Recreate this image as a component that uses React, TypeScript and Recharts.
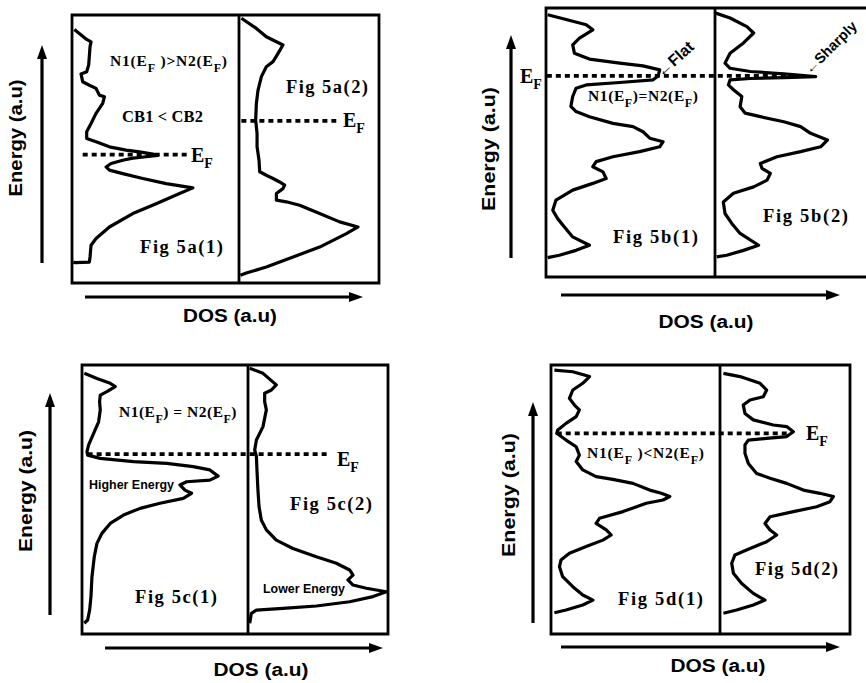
import React from 'react';
import { ComposedChart, Line, XAxis, YAxis, ReferenceLine, ReferenceArea } from 'recharts';

type P = { d: number; e: number };

// ---------- DOS curves (d = DOS a.u. 0..100 within its box, e = energy a.u. 0..100) ----------
const dosA1: P[] = [
  { d: 1.4, e: 94.6 }, { d: 8.8, e: 90.9 }, { d: 11.4, e: 90.0 }, { d: 10.8, e: 88.2 }, { d: 10.0, e: 81.4 },
  { d: 8.8, e: 78.8 }, { d: 5.4, e: 78.0 }, { d: 6.4, e: 75.1 }, { d: 10.4, e: 73.8 }, { d: 14.4, e: 72.6 },
  { d: 16.4, e: 70.1 }, { d: 19.4, e: 69.5 }, { d: 18.4, e: 67.0 }, { d: 14.4, e: 63.3 }, { d: 11.4, e: 59.5 },
  { d: 8.8, e: 56.4 }, { d: 8.8, e: 53.9 }, { d: 14.4, e: 52.7 }, { d: 22.4, e: 50.8 }, { d: 32.4, e: 49.6 },
  { d: 40.4, e: 48.9 }, { d: 48.4, e: 48.1 }, { d: 51.4, e: 47.6 }, { d: 44.4, e: 47.1 }, { d: 36.4, e: 46.6 },
  { d: 30.4, e: 45.8 }, { d: 23.4, e: 44.6 }, { d: 20.4, e: 43.3 }, { d: 22.4, e: 42.1 }, { d: 30.4, e: 40.8 },
  { d: 42.4, e: 39.0 }, { d: 56.4, e: 37.1 }, { d: 72.4, e: 35.5 }, { d: 64.4, e: 33.4 }, { d: 50.4, e: 29.6 },
  { d: 36.4, e: 25.9 }, { d: 22.4, e: 20.9 }, { d: 14.4, e: 16.6 }, { d: 11.4, e: 14.1 }, { d: 10.8, e: 9.7 },
  { d: 10.4, e: 7.8 }, { d: 2.0, e: 7.6 }, { d: 0.8, e: 7.8 },
];
const dosA2: P[] = [
  { d: 1.7, e: 98.8 }, { d: 12.4, e: 95.0 }, { d: 19.5, e: 91.9 }, { d: 26.7, e: 90.0 }, { d: 31.4, e: 88.8 },
  { d: 27.9, e: 85.7 }, { d: 24.3, e: 82.6 }, { d: 19.5, e: 80.7 }, { d: 16.0, e: 77.0 }, { d: 13.6, e: 72.0 },
  { d: 12.4, e: 67.0 }, { d: 11.9, e: 60.8 }, { d: 12.9, e: 55.8 }, { d: 12.9, e: 50.8 }, { d: 14.3, e: 45.8 },
  { d: 14.8, e: 41.5 }, { d: 19.5, e: 40.2 }, { d: 24.3, e: 39.0 }, { d: 29.0, e: 37.7 }, { d: 32.6, e: 36.5 },
  { d: 31.4, e: 35.2 }, { d: 26.7, e: 33.4 }, { d: 26.7, e: 30.9 }, { d: 33.8, e: 30.3 }, { d: 43.3, e: 29.0 },
  { d: 57.6, e: 25.9 }, { d: 71.9, e: 22.8 }, { d: 85.0, e: 20.9 }, { d: 76.7, e: 18.4 }, { d: 57.6, e: 13.4 },
  { d: 38.6, e: 9.7 }, { d: 19.5, e: 6.0 }, { d: 5.2, e: 3.7 }, { d: 1.0, e: 2.9 },
];
const dosB1: P[] = [
  { d: 1.0, e: 97.5 }, { d: 11.9, e: 95.7 }, { d: 23.8, e: 93.8 }, { d: 27.7, e: 91.9 }, { d: 19.8, e: 88.8 },
  { d: 15.8, e: 86.3 }, { d: 16.8, e: 83.2 }, { d: 25.7, e: 81.0 }, { d: 43.6, e: 79.5 }, { d: 57.4, e: 78.5 },
  { d: 67.3, e: 77.0 }, { d: 66.3, e: 74.7 }, { d: 63.4, e: 73.3 }, { d: 43.6, e: 72.3 }, { d: 23.8, e: 71.4 },
  { d: 17.8, e: 70.2 }, { d: 15.8, e: 67.1 }, { d: 14.7, e: 63.4 }, { d: 17.8, e: 61.5 }, { d: 25.7, e: 59.6 },
  { d: 39.6, e: 57.1 }, { d: 51.5, e: 55.9 }, { d: 57.4, e: 54.0 }, { d: 61.4, e: 51.6 }, { d: 69.3, e: 50.3 },
  { d: 67.3, e: 48.4 }, { d: 55.4, e: 46.6 }, { d: 39.6, e: 44.7 }, { d: 29.7, e: 42.9 }, { d: 27.7, e: 41.0 },
  { d: 33.7, e: 39.1 }, { d: 35.6, e: 36.6 }, { d: 27.7, e: 34.8 }, { d: 15.8, e: 32.3 }, { d: 5.9, e: 28.6 },
  { d: 4.0, e: 24.8 }, { d: 6.9, e: 21.7 }, { d: 10.9, e: 18.6 }, { d: 15.8, e: 14.9 }, { d: 25.7, e: 11.8 },
  { d: 17.8, e: 9.9 }, { d: 7.9, e: 8.1 }, { d: 1.0, e: 7.2 },
];
const dosB2: P[] = [
  { d: 0.5, e: 98.1 }, { d: 9.8, e: 96.3 }, { d: 20.7, e: 93.1 }, { d: 25.1, e: 90.7 }, { d: 18.5, e: 87.0 },
  { d: 9.8, e: 83.2 }, { d: 6.5, e: 79.5 }, { d: 9.8, e: 77.6 }, { d: 22.9, e: 76.4 }, { d: 44.7, e: 75.5 },
  { d: 65.4, e: 74.5 }, { d: 44.7, e: 74.1 }, { d: 22.9, e: 73.8 }, { d: 9.8, e: 73.3 }, { d: 8.7, e: 71.4 },
  { d: 12.0, e: 69.6 }, { d: 17.4, e: 67.1 }, { d: 16.3, e: 63.3 }, { d: 19.6, e: 60.9 }, { d: 29.4, e: 59.6 },
  { d: 44.7, e: 57.7 }, { d: 55.6, e: 55.9 }, { d: 62.1, e: 53.4 }, { d: 73.0, e: 50.9 }, { d: 68.6, e: 48.4 },
  { d: 55.6, e: 46.6 }, { d: 40.3, e: 44.7 }, { d: 29.4, e: 42.2 }, { d: 30.5, e: 40.4 }, { d: 35.9, e: 38.5 },
  { d: 33.8, e: 36.0 }, { d: 25.1, e: 33.5 }, { d: 12.0, e: 31.1 }, { d: 5.4, e: 27.9 }, { d: 6.5, e: 23.6 },
  { d: 10.9, e: 19.9 }, { d: 16.3, e: 16.2 }, { d: 28.3, e: 11.8 }, { d: 18.5, e: 9.9 }, { d: 7.6, e: 8.1 },
  { d: 1.1, e: 7.5 },
];
const dosC1: P[] = [
  { d: 1.4, e: 96.9 }, { d: 9.0, e: 95.0 }, { d: 17.0, e: 93.2 }, { d: 20.0, e: 92.0 }, { d: 15.0, e: 90.1 },
  { d: 11.0, e: 88.8 }, { d: 10.6, e: 86.4 }, { d: 11.0, e: 83.3 }, { d: 10.0, e: 78.9 }, { d: 7.0, e: 74.6 },
  { d: 4.0, e: 70.3 }, { d: 3.0, e: 67.8 }, { d: 3.4, e: 66.5 }, { d: 11.0, e: 65.3 }, { d: 31.0, e: 64.1 },
  { d: 51.0, e: 63.4 }, { d: 67.0, e: 62.2 }, { d: 77.0, e: 61.0 }, { d: 82.0, e: 58.7 }, { d: 77.0, e: 57.2 },
  { d: 63.0, e: 56.6 }, { d: 59.0, e: 55.4 }, { d: 62.0, e: 53.5 }, { d: 66.0, e: 52.3 }, { d: 61.0, e: 50.4 },
  { d: 47.0, e: 48.6 }, { d: 35.0, e: 46.7 }, { d: 25.0, e: 44.2 }, { d: 17.0, e: 41.1 }, { d: 12.0, e: 37.4 },
  { d: 9.0, e: 33.7 }, { d: 7.4, e: 28.7 }, { d: 6.0, e: 21.3 }, { d: 5.4, e: 13.9 }, { d: 4.6, e: 8.9 },
  { d: 3.4, e: 5.2 }, { d: 1.4, e: 4.0 },
];
const dosC2: P[] = [
  { d: 1.2, e: 98.8 }, { d: 10.7, e: 96.9 }, { d: 20.2, e: 92.6 }, { d: 16.7, e: 90.7 }, { d: 11.9, e: 89.5 },
  { d: 11.9, e: 86.4 }, { d: 13.1, e: 83.3 }, { d: 10.7, e: 77.1 }, { d: 6.0, e: 72.1 }, { d: 4.8, e: 68.4 },
  { d: 6.0, e: 65.9 }, { d: 6.4, e: 61.0 }, { d: 7.1, e: 53.5 }, { d: 7.9, e: 47.3 }, { d: 9.5, e: 42.4 },
  { d: 13.1, e: 38.7 }, { d: 20.2, e: 34.9 }, { d: 32.1, e: 31.8 }, { d: 48.8, e: 28.7 }, { d: 63.1, e: 26.3 },
  { d: 72.6, e: 23.8 }, { d: 75.0, e: 21.9 }, { d: 71.4, e: 20.1 }, { d: 75.0, e: 18.2 }, { d: 84.5, e: 17.0 },
  { d: 98.8, e: 15.7 }, { d: 89.3, e: 13.9 }, { d: 72.6, e: 12.0 }, { d: 48.8, e: 10.4 }, { d: 25.0, e: 9.5 },
  { d: 6.0, e: 8.9 }, { d: 2.4, e: 7.7 }, { d: 1.2, e: 4.0 },
];
const dosD1: P[] = [
  { d: 2.0, e: 98.1 }, { d: 12.9, e: 97.5 }, { d: 22.8, e: 95.7 }, { d: 18.8, e: 93.2 }, { d: 12.9, e: 90.7 },
  { d: 10.9, e: 87.6 }, { d: 13.9, e: 85.1 }, { d: 16.8, e: 83.3 }, { d: 14.9, e: 80.8 }, { d: 8.9, e: 78.3 },
  { d: 4.0, e: 75.8 }, { d: 3.4, e: 74.6 }, { d: 8.9, e: 72.1 }, { d: 14.9, e: 69.6 }, { d: 16.8, e: 66.5 },
  { d: 14.9, e: 64.1 }, { d: 18.8, e: 61.0 }, { d: 26.7, e: 58.5 }, { d: 36.6, e: 57.5 }, { d: 48.5, e: 56.0 },
  { d: 58.4, e: 53.5 }, { d: 65.3, e: 52.3 }, { d: 70.3, e: 51.1 }, { d: 66.3, e: 49.8 }, { d: 56.4, e: 48.6 },
  { d: 42.6, e: 45.5 }, { d: 28.7, e: 43.0 }, { d: 26.7, e: 41.1 }, { d: 32.7, e: 38.7 }, { d: 35.6, e: 36.8 },
  { d: 30.7, e: 34.9 }, { d: 20.8, e: 32.5 }, { d: 10.9, e: 30.0 }, { d: 5.9, e: 27.5 }, { d: 5.0, e: 25.0 },
  { d: 6.9, e: 21.3 }, { d: 12.9, e: 17.6 }, { d: 18.8, e: 14.5 }, { d: 24.8, e: 12.6 }, { d: 18.8, e: 10.8 },
  { d: 8.9, e: 8.9 }, { d: 2.0, e: 7.9 },
];
const dosD2: P[] = [
  { d: 2.6, e: 96.9 }, { d: 15.4, e: 95.7 }, { d: 30.8, e: 93.2 }, { d: 35.9, e: 90.7 }, { d: 33.3, e: 88.2 },
  { d: 23.1, e: 87.0 }, { d: 17.9, e: 85.1 }, { d: 19.2, e: 82.0 }, { d: 25.6, e: 79.6 }, { d: 41.0, e: 77.7 },
  { d: 51.3, e: 77.1 }, { d: 56.4, e: 75.2 }, { d: 51.3, e: 73.4 }, { d: 35.9, e: 72.7 }, { d: 21.8, e: 72.1 },
  { d: 19.2, e: 70.3 }, { d: 19.2, e: 67.2 }, { d: 21.8, e: 63.4 }, { d: 28.2, e: 59.7 }, { d: 38.5, e: 57.9 },
  { d: 51.3, e: 56.0 }, { d: 64.1, e: 53.5 }, { d: 76.9, e: 52.3 }, { d: 87.2, e: 51.1 }, { d: 84.6, e: 49.2 },
  { d: 74.4, e: 47.3 }, { d: 56.4, e: 45.5 }, { d: 38.5, e: 43.6 }, { d: 34.6, e: 41.1 }, { d: 38.5, e: 38.7 },
  { d: 43.6, e: 36.8 }, { d: 35.9, e: 34.3 }, { d: 23.1, e: 31.8 }, { d: 11.5, e: 29.4 }, { d: 9.0, e: 26.3 },
  { d: 10.3, e: 22.6 }, { d: 16.7, e: 18.8 }, { d: 25.6, e: 15.1 }, { d: 34.6, e: 12.6 }, { d: 25.6, e: 10.8 },
  { d: 12.8, e: 8.9 }, { d: 2.6, e: 7.7 },
];

// Fermi level lines: [energy, from DOS, to DOS, axis of the DOS values]
type EF = { e: number; from: number; to: number; axis: 'L' | 'R' };
const efA: EF[] = [
  { e: 47.9, from: 6.4, to: 70.4, axis: 'L' },
  { e: 60.5, from: 1.7, to: 69.5, axis: 'R' },
];
const efB: EF[] = [{ e: 74.8, from: 0.5, to: 145, axis: 'L' }];
const efC: EF[] = [{ e: 66.9, from: 3.4, to: 149, axis: 'L' }];
const efD: EF[] = [{ e: 74.6, from: 3.4, to: 140.6, axis: 'L' }];

const SERIF = '"Liberation Serif", "Times New Roman", serif';
const SANS = '"Liberation Sans", Arial, sans-serif';

type Box = { left: number; top: number; right: number; bottom: number; divider: number };

function Panel({ box, c1, c2, ef }: { box: Box; c1: P[]; c2: P[]; ef: EF[] }) {
  const M = 6;
  const W = box.right - box.left;
  const H = box.bottom - box.top;
  const WL = box.divider - box.left;
  const WR = box.right - box.divider;
  const lMax = (100 * W) / WL;
  const rMin = (-100 * WL) / WR;
  return (
    <div style={{ position: 'absolute', left: box.left - M, top: box.top - M }}>
      <ComposedChart width={W + 2 * M} height={H + 2 * M} margin={{ top: M, right: M, bottom: M, left: M }}>
        <XAxis xAxisId="L" type="number" dataKey="d" domain={[0, lMax]} hide allowDataOverflow />
        <XAxis xAxisId="R" type="number" dataKey="d" domain={[rMin, 100]} hide allowDataOverflow />
        <YAxis yAxisId="E" type="number" domain={[0, 100]} hide allowDataOverflow />
        <ReferenceArea xAxisId="L" yAxisId="E" x1={0} x2={lMax} y1={0} y2={100} fill="none" fillOpacity={0}
          stroke="#000" strokeWidth={2.8} ifOverflow="visible" />
        <ReferenceLine xAxisId="L" yAxisId="E" x={100} stroke="#000" strokeWidth={2.8} ifOverflow="visible" />
        {ef.map((f, i) => (
          <ReferenceLine key={i} xAxisId={f.axis} yAxisId="E" ifOverflow="visible"
            segment={[{ x: f.from, y: f.e }, { x: f.to, y: f.e }]}
            stroke="#000" strokeWidth={3.8} strokeDasharray="5 4" />
        ))}
        <Line xAxisId="L" yAxisId="E" data={c1} dataKey="e" type="linear" stroke="#000" strokeWidth={3.2}
          dot={false} isAnimationActive={false} strokeLinejoin="round" />
        <Line xAxisId="R" yAxisId="E" data={c2} dataKey="e" type="linear" stroke="#000" strokeWidth={3.2}
          dot={false} isAnimationActive={false} strokeLinejoin="round" />
      </ComposedChart>
    </div>
  );
}

function VArrow({ x, y1, y2 }: { x: number; y1: number; y2: number }) {
  return (
    <g>
      <line x1={x} y1={y1} x2={x} y2={y2 + 8} stroke="#000" strokeWidth={3.2} />
      <polygon points={`${x},${y2} ${x - 5},${y2 + 14} ${x + 5},${y2 + 14}`} fill="#000" />
    </g>
  );
}
function HArrow({ y, x1, x2 }: { y: number; x1: number; x2: number }) {
  return (
    <g>
      <line x1={x1} y1={y} x2={x2 - 8} y2={y} stroke="#000" strokeWidth={3.2} />
      <polygon points={`${x2},${y} ${x2 - 14},${y - 5} ${x2 - 14},${y + 5}`} fill="#000" />
    </g>
  );
}
function EnergyTitle({ x, y, len }: { x: number; y: number; len: number }) {
  return (
    <text transform={`translate(${x},${y}) rotate(-90)`} textAnchor="middle" fontFamily={SANS} fontWeight="bold"
      fontSize={18} textLength={len} lengthAdjust="spacingAndGlyphs">Energy (a.u)</text>
  );
}
function DosTitle({ x, y, len }: { x: number; y: number; len: number }) {
  return (
    <text x={x} y={y} textAnchor="middle" fontFamily={SANS} fontWeight="bold" fontSize={18}
      textLength={len} lengthAdjust="spacingAndGlyphs">DOS (a.u)</text>
  );
}
function Fig({ x, y, len, children }: { x: number; y: number; len: number; children: string }) {
  return (
    <text x={x} y={y} fontFamily={SERIF} fontWeight="bold" fontSize={18.5} textLength={len} lengthAdjust="spacing">{children}</text>
  );
}
function EFLabel({ x, y }: { x: number; y: number }) {
  return (
    <text x={x} y={y} fontFamily={SERIF} fontWeight="bold" fontSize={20}>
      E<tspan fontSize={14} dy={6}>F</tspan>
    </text>
  );
}
function NLabel({ x, y, a, b, c, ls }: { x: number; y: number; a: string; b: string; c: string; ls: number }) {
  return (
    <text x={x} y={y} fontFamily={SERIF} fontWeight="bold" fontSize={15.5} letterSpacing={ls}>
      {a}<tspan fontSize={12} dy={6}>F</tspan><tspan dy={-6}>{b}</tspan><tspan fontSize={12} dy={6}>F</tspan><tspan dy={-6}>{c}</tspan>
    </text>
  );
}

const boxA: Box = { left: 72, top: 15, right: 379, bottom: 283, divider: 239 };
const boxB: Box = { left: 546, top: 8, right: 869, bottom: 277, divider: 715 };
const boxC: Box = { left: 82, top: 365, right: 388, bottom: 634, divider: 248 };
const boxD: Box = { left: 551, top: 365, right: 850, bottom: 634, divider: 720 };

export default function App() {
  return (
    <div style={{ position: 'absolute', left: 0, top: 0, width: 866, height: 683, overflow: 'hidden', background: '#fff' }}>
      <Panel box={boxA} c1={dosA1} c2={dosA2} ef={efA} />
      <Panel box={boxB} c1={dosB1} c2={dosB2} ef={efB} />
      <Panel box={boxC} c1={dosC1} c2={dosC2} ef={efC} />
      <Panel box={boxD} c1={dosD1} c2={dosD2} ef={efD} />
      <svg width={866} height={683} style={{ position: 'absolute', left: 0, top: 0, pointerEvents: 'none' }}>
        {/* Panel a */}
        <VArrow x={42} y1={263} y2={45} />
        <HArrow y={297} x1={85} x2={363} />
        <EnergyTitle x={22} y={138} len={117} />
        <DosTitle x={230} y={322} len={94} />
        <NLabel x={110} y={66} a="N1(E" b=" )>N2(E" c=")" ls={0.8} />
        <text x={122} y={122} fontFamily={SERIF} fontWeight="bold" fontSize={16.5} textLength={81} lengthAdjust="spacing">CB1 &lt; CB2</text>
        <Fig x={140} y={253} len={83}>Fig 5a(1)</Fig>
        <Fig x={286} y={93} len={82}>Fig 5a(2)</Fig>
        <EFLabel x={191} y={162} />
        <EFLabel x={343} y={127} />

        {/* Panel b */}
        <VArrow x={511} y1={258} y2={35} />
        <HArrow y={295} x1={561} x2={840} />
        <EnergyTitle x={495} y={149} len={124} />
        <DosTitle x={706} y={328} len={95} />
        <EFLabel x={520} y={83} />
        <NLabel x={588} y={101} a="N1(E" b=")=N2(E" c=")" ls={0.6} />
        <Fig x={613} y={243} len={85}>Fig 5b(1)</Fig>
        <Fig x={763} y={222} len={85}>Fig 5b(2)</Fig>
        <text transform="translate(662,78) rotate(-42)" fontFamily={SANS} fontWeight="bold" fontSize={16}>←Flat</text>
        <text transform="translate(810,75) rotate(-45)" fontFamily={SANS} fontWeight="bold" fontSize={14.5}>←Sharply</text>

        {/* Panel c */}
        <VArrow x={50} y1={615} y2={393} />
        <HArrow y={648} x1={105} x2={383} />
        <EnergyTitle x={32} y={491} len={122} />
        <DosTitle x={261} y={676} len={95} />
        <NLabel x={119} y={417} a="N1(E" b=") = N2(E" c=")" ls={0.5} />
        <text x={89} y={489} fontFamily={SANS} fontWeight="bold" fontSize={12} textLength={85} lengthAdjust="spacingAndGlyphs">Higher Energy</text>
        <text x={263} y={593} fontFamily={SANS} fontWeight="bold" fontSize={12} textLength={82} lengthAdjust="spacingAndGlyphs">Lower Energy</text>
        <EFLabel x={337} y={466} />
        <Fig x={290} y={510} len={82}>Fig 5c(2)</Fig>
        <Fig x={135} y={603} len={82}>Fig 5c(1)</Fig>

        {/* Panel d */}
        <VArrow x={533} y1={623} y2={402} />
        <HArrow y={647} x1={561} x2={840} />
        <EnergyTitle x={515} y={495} len={124} />
        <DosTitle x={718} y={672} len={95} />
        <EFLabel x={806} y={440} />
        <NLabel x={587} y={458} a="N1(E" b=" )<N2(E" c=")" ls={0.8} />
        <Fig x={618} y={605} len={85}>Fig 5d(1)</Fig>
        <Fig x={755} y={575} len={83}>Fig 5d(2)</Fig>
      </svg>
    </div>
  );
}
